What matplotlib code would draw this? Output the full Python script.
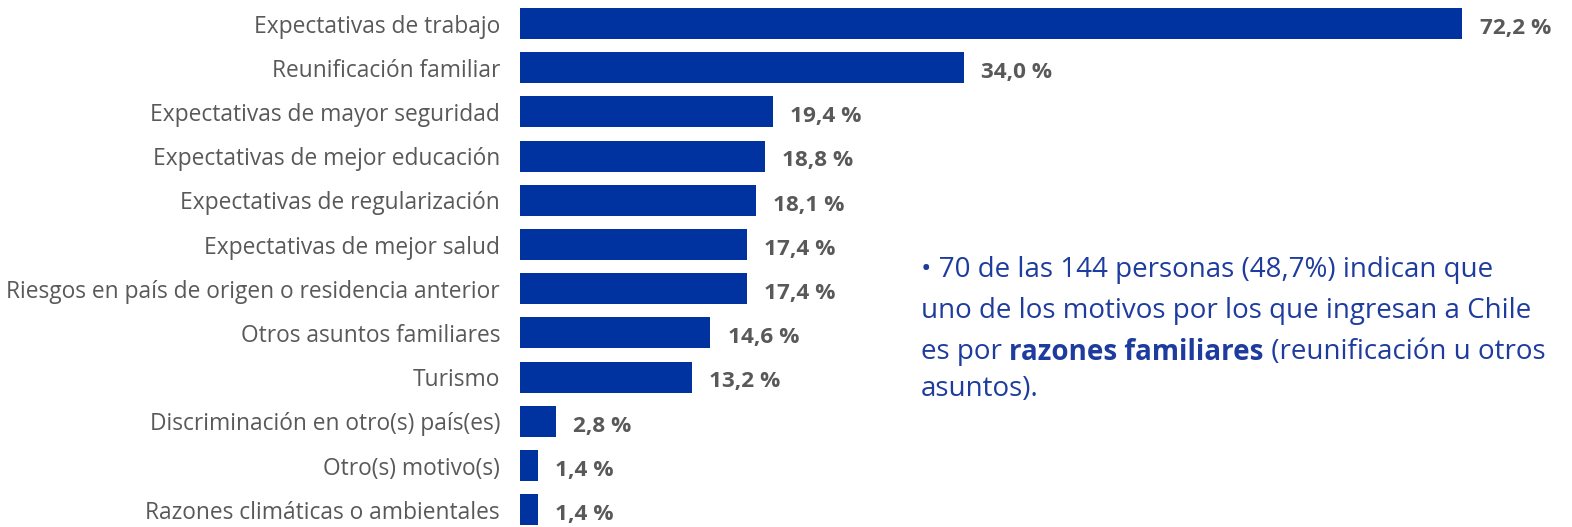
import numpy as np
import matplotlib
matplotlib.use('Agg')
import matplotlib.pyplot as plt

plt.rcParams['font.family'] = ['Open Sans', 'DejaVu Sans']

# datos
motivos = ["Expectativas de trabajo", "Reunificación familiar",
           "Expectativas de mayor seguridad", "Expectativas de mejor educación",
           "Expectativas de regularización", "Expectativas de mejor salud",
           "Riesgos en país de origen o residencia anterior",
           "Otros asuntos familiares", "Turismo",
           "Discriminación en otro(s) país(es)", "Otro(s) motivo(s)",
           "Razones climáticas o ambientales"]
porcentajes = [72.2, 34.0, 19.4, 18.8, 18.1, 17.4, 17.4, 14.6, 13.2, 2.8, 1.4, 1.4]
etiquetas = [f"{v:.1f} %".replace('.', ',') for v in porcentajes]

AZUL = '#0033A0'
GRIS = '#595959'
W, H = 1572, 527

fig = plt.figure(figsize=(W/100, H/100), dpi=100)
x0 = 519.5
ax = fig.add_axes([x0/W, 0, 1 - x0/W, 1])
px_unit = 13.06
ax.set_xlim(0, (W - x0)/px_unit)
pitch = 44.2
top = 23.5/pitch
ax.set_ylim(-top + H/pitch, -top)  # invertido

y = np.arange(len(motivos))
ax.barh(y, porcentajes, height=0.70, color=AZUL)
for yi, v, lab in zip(y, porcentajes, etiquetas):
    ax.annotate(lab, (v, yi), xytext=(12.5, -3.5), textcoords='offset points',
                ha='left', va='center', fontsize=16.2, fontweight='bold', color=GRIS)

ax.set_yticks(y)
ax.set_yticklabels(motivos, fontsize=16.4, color=GRIS)
ax.tick_params(axis='y', length=0, pad=14)
ax.set_xticks([])
for s in ax.spines.values():
    s.set_visible(False)

# texto lateral con parte en negrita
TXT = '#1E3C9E'
fs = 20
lx = 921 / W
lineas_y = [270, 311, 352, 389]
fig.text(lx, 1 - lineas_y[0]/H, "• 70 de las 144 personas (48,7%) indican que",
         fontsize=fs, color=TXT, va='center')
fig.text(lx, 1 - lineas_y[1]/H, "uno de los motivos por los que ingresan a Chile",
         fontsize=fs, color=TXT, va='center')
fig.canvas.draw()
r = fig.canvas.get_renderer()
xc = lx
for parte, peso in [("es por ", 'normal'), ("razones familiares", 'bold'),
                    (" (reunificación u otros", 'normal')]:
    t = fig.text(xc, 1 - lineas_y[2]/H, parte, fontsize=fs, color=TXT,
                 va='center', fontweight=peso)
    bb = t.get_window_extent(renderer=r)
    xc = bb.x1 / W
fig.text(lx, 1 - lineas_y[3]/H, "asuntos).", fontsize=fs, color=TXT, va='center')

fig.savefig('out.png', dpi=100)
